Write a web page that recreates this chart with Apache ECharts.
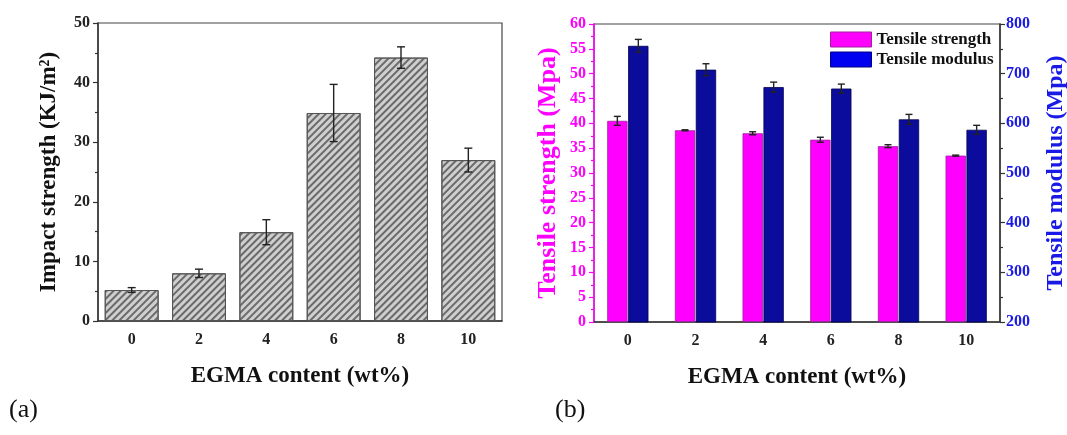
<!DOCTYPE html>
<html>
<head>
<meta charset="utf-8">
<script src="https://cdn.jsdelivr.net/npm/echarts@6/dist/echarts.min.js"></script>
<style>
  html, body { margin: 0; padding: 0; background: #fff; }
  #chart { width: 1067px; height: 435px; }
</style>
</head>
<body>
<div id="chart"></div>
<script>
// EGMA content (wt%)
var categories = ['0', '2', '4', '6', '8', '10'];

// (a) impact strength, KJ/m2
var impact = [5.2, 8.0, 14.9, 34.9, 44.2, 27.0];
var impactErr = [0.4, 0.7, 2.1, 4.8, 1.8, 2.0];

// (b) tensile strength / modulus, MPa
var strength = [40.5, 38.6, 38.0, 36.7, 35.4, 33.5];
var strengthErr = [0.9, 0.1, 0.3, 0.5, 0.3, 0.1];
var modulus = [756, 708, 673, 670, 608, 587];
var modulusErr = [13, 12, 10, 9, 10, 9];

var FONT = '"Liberation Serif", "DejaVu Serif", serif';
var MAGENTA = '#ff00ff';
var BLUE = '#1a1ae6';

function errData(vals, errs) {
    return vals.map(function (v, i) { return [i, v - errs[i], v + errs[i]]; });
}

// error bar drawn through the axes; shift = fraction of category band
function errSeries(name, xIdx, yIdx, data, shift, cap) {
    return {
        type: 'custom',
        name: name,
        xAxisIndex: xIdx,
        yAxisIndex: yIdx,
        z: 10,
        silent: true,
        data: data,
        renderItem: function (params, api) {
            var i = api.value(0);
            var lo = api.coord([i, api.value(1)]);
            var hi = api.coord([i, api.value(2)]);
            var band = api.size([1, 0])[0];
            var x = lo[0] + band * shift;
            var st = { stroke: '#222', lineWidth: 1.4 };
            return {
                type: 'group',
                children: [
                    { type: 'line', shape: { x1: x, y1: lo[1], x2: x, y2: hi[1] }, style: st },
                    { type: 'line', shape: { x1: x - cap, y1: hi[1], x2: x + cap, y2: hi[1] }, style: st },
                    { type: 'line', shape: { x1: x - cap, y1: lo[1], x2: x + cap, y2: lo[1] }, style: st }
                ]
            };
        }
    };
}

function tickLabel(color) {
    return { fontFamily: FONT, fontWeight: 'bold', fontSize: 16, color: color };
}
function nameStyle(color, size) {
    return { fontFamily: FONT, fontWeight: 'bold', fontSize: size, color: color };
}

var chart = echarts.init(document.getElementById('chart'));

chart.setOption({
    animation: false,
    backgroundColor: '#fff',
    grid: [
        { left: 98, right: 565, top: 23, bottom: 114, outerBoundsMode: 'none', show: true, borderColor: '#444', borderWidth: 1.2 },
        { left: 594, right: 67, top: 24, bottom: 113, outerBoundsMode: 'none', show: true, borderColor: '#444', borderWidth: 1.2 }
    ],
    legend: {
        orient: 'vertical',
        left: 825,
        top: 26,
        itemWidth: 41,
        itemHeight: 15,
        itemGap: 3,
        icon: 'rect',
        textStyle: { fontFamily: FONT, fontWeight: 'bold', fontSize: 17, color: '#111' },
        data: [
            { name: 'Tensile strength', itemStyle: { color: MAGENTA, borderColor: '#a020a0', borderWidth: 1 } },
            { name: 'Tensile modulus', itemStyle: { color: '#0000f0', borderColor: '#000080', borderWidth: 1 } }
        ]
    },
    xAxis: [
        {
            type: 'category', gridIndex: 0, data: categories,
            name: 'EGMA content (wt%)', nameLocation: 'middle', nameGap: 44,
            nameTextStyle: nameStyle('#111', 23),
            axisLine: { lineStyle: { color: '#333', width: 1.5 } },
            axisTick: { alignWithLabel: true, length: 5, lineStyle: { color: '#333', width: 1.2 } },
            axisLabel: Object.assign({ margin: 11 }, tickLabel('#222'))
        },
        {
            type: 'category', gridIndex: 0, data: categories,
            axisLine: { show: false },
            axisTick: { length: 3, lineStyle: { color: '#333', width: 1.2 } },
            axisLabel: { show: false }
        },
        {
            type: 'category', gridIndex: 1, data: categories,
            name: 'EGMA content (wt%)', nameLocation: 'middle', nameGap: 44,
            nameTextStyle: nameStyle('#111', 23),
            axisLine: { lineStyle: { color: '#333', width: 1.5 } },
            axisTick: { alignWithLabel: true, length: 5, lineStyle: { color: '#333', width: 1.2 } },
            axisLabel: Object.assign({ margin: 11 }, tickLabel('#222'))
        },
        {
            type: 'category', gridIndex: 1, data: categories,
            axisLine: { show: false },
            axisTick: { length: 3, lineStyle: { color: '#333', width: 1.2 } },
            axisLabel: { show: false }
        }
    ],
    yAxis: [
        {
            type: 'value', gridIndex: 0, min: 0, max: 50, interval: 10,
            name: 'Impact strength (KJ/m²)', nameLocation: 'middle', nameGap: 37,
            nameTextStyle: nameStyle('#111', 23),
            axisLine: { show: true, lineStyle: { color: '#333', width: 1.5 } },
            axisTick: { show: true, length: 5, lineStyle: { color: '#333', width: 1.2 } },
            minorTick: { show: true, splitNumber: 2, length: 3, lineStyle: { color: '#333', width: 1.2 } },
            splitLine: { show: false },
            axisLabel: Object.assign({ margin: 8 }, tickLabel('#222'))
        },
        {
            type: 'value', gridIndex: 1, min: 0, max: 60, interval: 5,
            name: 'Tensile strength (Mpa)', nameLocation: 'middle', nameGap: 33,
            nameTextStyle: nameStyle(MAGENTA, 26),
            axisLine: { show: true, lineStyle: { color: MAGENTA, width: 1.5 } },
            axisTick: { show: true, length: 5, lineStyle: { color: MAGENTA, width: 1.2 } },
            minorTick: { show: true, splitNumber: 2, length: 3, lineStyle: { color: MAGENTA, width: 1.2 } },
            splitLine: { show: false },
            axisLabel: Object.assign({ margin: 8 }, tickLabel(MAGENTA))
        },
        {
            type: 'value', gridIndex: 1, position: 'right', min: 200, max: 800, interval: 100,
            name: 'Tensile modulus (Mpa)', nameLocation: 'middle', nameGap: 44,
            nameRotate: 90,
            nameTextStyle: nameStyle(BLUE, 24),
            axisLine: { show: true, lineStyle: { color: '#333', width: 1.5 } },
            axisTick: { show: true, length: 5, lineStyle: { color: '#333', width: 1.2 } },
            minorTick: { show: true, splitNumber: 2, length: 3, lineStyle: { color: '#333', width: 1.2 } },
            splitLine: { show: false },
            axisLabel: Object.assign({ margin: 6 }, tickLabel(BLUE))
        }
    ],
    series: [
        {
            type: 'bar', name: 'Impact strength', xAxisIndex: 0, yAxisIndex: 0,
            data: impact, barCategoryGap: '20%',
            itemStyle: {
                color: '#cfcfcf', borderColor: '#555', borderWidth: 1,
                decal: {
                    symbol: 'rect', symbolSize: 1,
                    dashArrayX: [1, 0], dashArrayY: [1.5, 2.2],
                    rotation: -Math.PI / 4, color: '#6a6a6a'
                }
            }
        },
        errSeries('impact err', 0, 0, errData(impact, impactErr), 0, 4),
        {
            type: 'bar', name: 'Tensile strength', xAxisIndex: 2, yAxisIndex: 1,
            data: strength, barWidth: '30%', barGap: '3%',
            itemStyle: { color: MAGENTA, borderColor: '#a020a0', borderWidth: 0.8 }
        },
        {
            type: 'bar', name: 'Tensile modulus', xAxisIndex: 2, yAxisIndex: 2,
            data: modulus, barWidth: '30%', barGap: '3%',
            itemStyle: { color: '#0c0c9c', borderColor: '#000050', borderWidth: 0.8 }
        },
        errSeries('strength err', 2, 1, errData(strength, strengthErr), -0.155, 3.5),
        errSeries('modulus err', 2, 2, errData(modulus, modulusErr), 0.155, 3.5)
    ],
    graphic: [
        { type: 'text', left: 9, top: 397, style: { text: '(a)', font: '26px ' + FONT, fill: '#111' } },
        { type: 'text', left: 555, top: 397, style: { text: '(b)', font: '26px ' + FONT, fill: '#111' } }
    ]
});
</script>
</body>
</html>
